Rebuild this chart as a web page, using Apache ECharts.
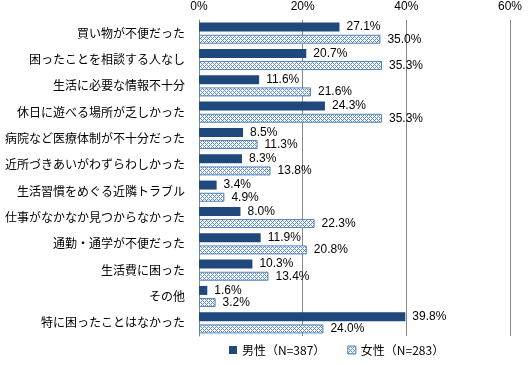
<!DOCTYPE html>
<html><head><meta charset="utf-8">
<script src="https://cdn.jsdelivr.net/npm/echarts@6/dist/echarts.min.js"></script>
<style>html,body{margin:0;padding:0;background:#fff}#c{width:531px;height:365px}</style>
</head><body><div id="c"></div>
<script>
const categories = ['買い物が不便だった','困ったことを相談する人なし','生活に必要な情報不十分','休日に遊べる場所が乏しかった','病院など医療体制が不十分だった','近所づきあいがわずらわしかった','生活習慣をめぐる近隣トラブル','仕事がなかなか見つからなかった','通勤・通学が不便だった','生活費に困った','その他','特に困ったことはなかった'];
const male = [27.1, 20.7, 11.6, 24.3, 8.5, 8.3, 3.4, 8.0, 11.9, 10.3, 1.6, 39.8];
const female = [35.0, 35.3, 21.6, 35.3, 11.3, 13.8, 4.9, 22.3, 20.8, 13.4, 3.2, 24.0];
const seriesNames = ['男性（N=387）','女性（N=283）'];
const xTicks = [0, 20, 40, 60];

const pc = document.createElement('canvas');
pc.width = 4; pc.height = 4;
const g = pc.getContext('2d');
g.fillStyle = '#ffffff'; g.fillRect(0,0,4,4);
g.fillStyle = '#5f8ac6';
for (let y=0;y<4;y++) for (let x=0;x<4;x++) { if ((x+y)%2===0) g.fillRect(x,y,1,1); }
g.fillStyle = '#ffffff'; g.fillRect(0,0,1,1); g.fillRect(2,2,1,1);

const chart = echarts.init(document.getElementById('c'));
const labelStyle = {show:true, position:'right', distance:7, formatter: p => p.value.toFixed(1)+'%', fontFamily:'Liberation Sans, Arial, sans-serif', fontSize:12, color:'#000'};
chart.setOption({
  animation:false,
  grid:{left:199, right:21, top:20, bottom:29, containLabel:false},
  legend:{bottom:4, itemWidth:8, itemHeight:8, itemGap:22, icon:'rect', left:224,
    textStyle:{fontFamily:'Noto Sans CJK JP, sans-serif', fontSize:12, color:'#000'},
    data:[{name:seriesNames[0]},{name:seriesNames[1], itemStyle:{borderColor:'#4f81bd', borderWidth:1}}]},
  xAxis:{type:'value', position:'top', min:xTicks[0], max:xTicks[xTicks.length-1], interval:20,
    axisLabel:{formatter:v=>v+'%', fontFamily:'Liberation Sans, Arial, sans-serif', fontSize:12, color:'#000', margin:7},
    axisLine:{show:false}, axisTick:{show:false},
    splitLine:{lineStyle:{color:'#868686', width:1}}},
  yAxis:{type:'category', inverse:true, data:categories,
    axisLine:{lineStyle:{color:'#868686'}}, axisTick:{show:false},
    axisLabel:{fontFamily:'Noto Sans CJK JP, sans-serif', fontSize:12, color:'#000', margin:14}},
  series:[
    {name:seriesNames[0], type:'bar', data:male, barWidth:9, barGap:'35%',
     itemStyle:{color:'#1f497d'}, label:labelStyle},
    {name:seriesNames[1], type:'bar', data:female, barWidth:9,
     itemStyle:{color:{image:pc, repeat:'repeat'}, borderColor:'#4f81bd', borderWidth:1}, label:labelStyle}
  ]
});
</script></body></html>
